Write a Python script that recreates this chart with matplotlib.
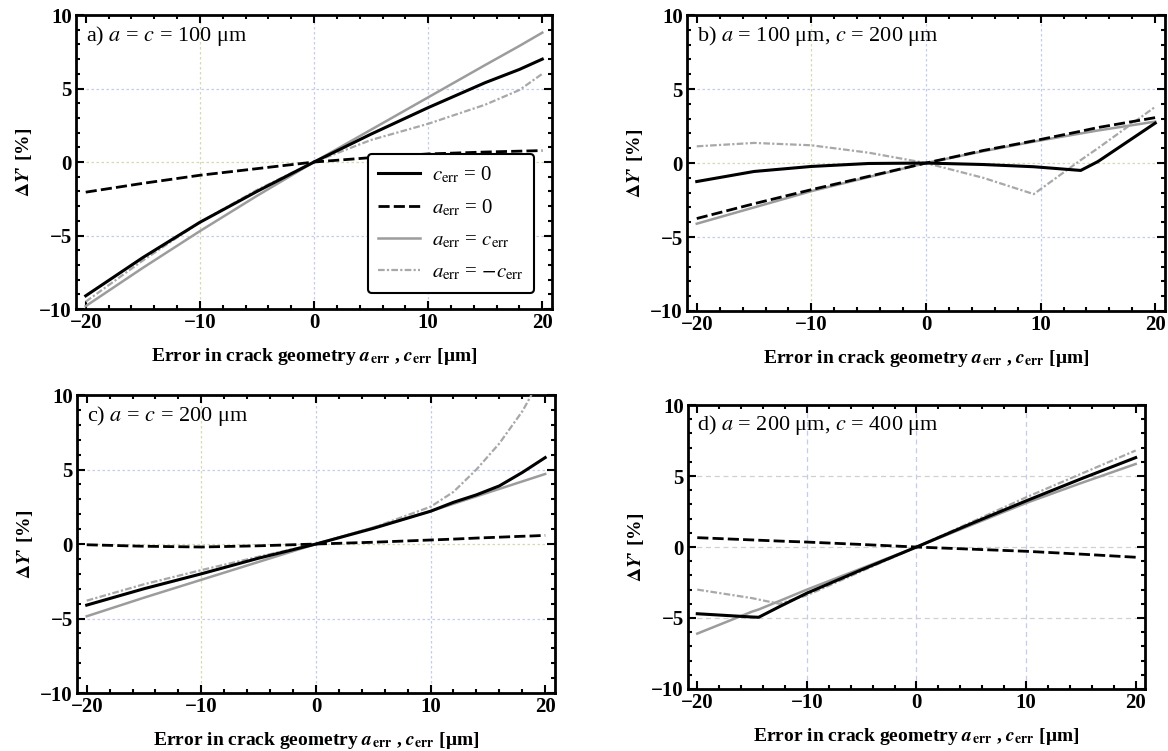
import numpy as np
import matplotlib
matplotlib.use("Agg")
import matplotlib.pyplot as plt
from matplotlib.ticker import MultipleLocator

plt.rcParams['font.family'] = ['Liberation Serif', 'DejaVu Serif']
plt.rcParams['mathtext.fontset'] = 'stix'

# ---- data ----
# a) a = c = 100 um
xa = [-20, -15, -10, -5, 0, 5, 10, 15, 18, 20]
a_c0 = [-9.1, -6.5, -4.1, -2.0, 0, 1.9, 3.7, 5.4, 6.3, 7.0]
a_a0 = [-2.05, -1.45, -0.9, -0.45, 0, 0.3, 0.55, 0.68, 0.74, 0.78]
a_eq = [-9.8, -7.2, -4.7, -2.3, 0, 2.2, 4.4, 6.6, 7.9, 8.8]
a_neg = [-9.5, -6.7, -4.1, -1.9, 0, 1.5, 2.6, 3.9, 4.9, 6.0]

# b) a = 100 um, c = 200 um
xb = [-20, -15, -10, -5, 0, 5, 9.4, 13.5, 15, 20]
b_c0 = [-1.25, -0.57, -0.23, -0.03, 0, -0.1, -0.25, -0.5, 0.1, 2.7]
b_a0 = [-3.75, -2.75, -1.8, -0.9, 0, 0.85, 1.5, 2.15, 2.4, 3.07]
b_eq = [-4.1, -3.0, -1.9, -0.95, 0, 0.8, 1.45, 2.0, 2.2, 2.8]
b_neg = [1.13, 1.36, 1.2, 0.7, 0, -1.0, -2.1, 0.2, 1.0, 3.8]

# c) a = c = 200 um
xc = [-20, -15, -10, -5, 0, 5, 10, 12, 14, 16, 18, 18.8, 20]
c_c0 = [-4.1, -3.0, -2.0, -0.95, 0, 1.05, 2.2, 2.8, 3.3, 3.9, 4.8, 5.2, 5.8]
c_a0 = [-0.05, -0.15, -0.2, -0.12, 0, 0.12, 0.27, 0.33, 0.4, 0.46, 0.52, 0.54, 0.58]
c_eq = [-4.85, -3.6, -2.4, -1.2, 0, 1.1, 2.2, 2.7, 3.2, 3.7, 4.2, 4.4, 4.7]
xc_neg = [-20, -15, -10, -5, 0, 5, 10, 12, 14, 16, 18, 18.8]
c_neg = [-3.8, -2.7, -1.75, -0.85, 0, 1.1, 2.5, 3.5, 5.0, 6.75, 8.9, 10.0]

# d) a = 200 um, c = 400 um
xd = [-20, -15, -14.4, -12.5, -10, -5, 0, 5, 10, 15, 20]
d_c0 = [-4.7, -4.93, -4.95, -4.2, -3.25, -1.6, 0, 1.65, 3.25, 4.8, 6.3]
d_a0 = [0.66, 0.5, 0.48, 0.42, 0.35, 0.18, 0, -0.15, -0.3, -0.5, -0.72]
d_eq = [-6.1, -4.55, -4.4, -3.8, -3.0, -1.5, 0, 1.55, 3.1, 4.5, 5.85]
d_neg = [-3.0, -3.6, -3.7, -4.0, -3.4, -1.7, 0, 1.75, 3.5, 5.15, 6.8]

panels = [
    ("a) $a$ = $c$ = 100 μm", xa, xa, a_c0, a_a0, a_eq, a_neg),
    ("b) $a$ = 100 μm, $c$ = 200 μm", xb, xb, b_c0, b_a0, b_eq, b_neg),
    ("c) $a$ = $c$ = 200 μm", xc, xc_neg, c_c0, c_a0, c_eq, c_neg),
    ("d) $a$ = 200 μm, $c$ = 400 μm", xd, xd, d_c0, d_a0, d_eq, d_neg),
]

# axes boxes in figure fraction (left, bottom, width, height)
boxes = [
    [0.0651, 0.5885, 0.4075, 0.3915],
    [0.5882, 0.5859, 0.4092, 0.3940],
    [0.0659, 0.0772, 0.4092, 0.3968],
    [0.5890, 0.0826, 0.3913, 0.3780],
]

fig = plt.figure(figsize=(11.68, 7.51), dpi=100)

blue = '#c4cbec'
khaki = '#d9d9b0'

for i, (title, xs, xn, c0, a0, eq, neg) in enumerate(panels):
    ax = fig.add_axes(boxes[i])
    ax.set_xlim(-20.85, 20.85)
    ax.set_ylim(-10, 10)

    # light grid lines
    ls = (0, (4, 3)) if i == 3 else (0, (2, 2))
    for gx, col in zip([-10, 0, 10], [khaki, blue, blue]):
        ax.axvline(gx, color=blue if i == 3 else col, lw=0.9, ls=ls, zorder=0)
    for gy, col in zip([-5, 0, 5], [blue, khaki, blue]):
        ax.axhline(gy, color='#d0d0d0' if i == 3 else col, lw=0.9, ls=ls, zorder=0)

    ax.plot(xs, c0, color='black', lw=2.2, label=r'$c_{\mathrm{err}}$ = 0', zorder=4)
    ax.plot(xs, a0, color='black', lw=2.0, ls=(0, (4, 1.5)), label=r'$a_{\mathrm{err}}$ = 0', zorder=4)
    ax.plot(xs, eq, color='#9c9c9c', lw=1.8, label=r'$a_{\mathrm{err}}$ = $c_{\mathrm{err}}$', zorder=3)
    ax.plot(xn, neg, color='#a8a8a8', lw=1.6, ls=(0, (3, 1, 1, 1)),
            label=r'$a_{\mathrm{err}}$ = $-c_{\mathrm{err}}$', zorder=3)

    ax.text(0.02, 0.93, title, transform=ax.transAxes, fontsize=16, va='center', ha='left')

    ax.xaxis.set_major_locator(MultipleLocator(10))
    ax.xaxis.set_minor_locator(MultipleLocator(2))
    ax.yaxis.set_major_locator(MultipleLocator(5))
    ax.yaxis.set_minor_locator(MultipleLocator(1))
    ax.tick_params(which='both', direction='in', top=True, right=True, width=1.5)
    ax.tick_params(which='major', length=6, labelsize=15, pad=3)
    ax.tick_params(which='minor', length=3)
    for lab in ax.get_xticklabels() + ax.get_yticklabels():
        lab.set_fontweight('bold')
    for sp in ax.spines.values():
        sp.set_linewidth(2)

    ax.set_xlabel(r"Error in crack geometry $\mathbfit{a}_{\mathbf{err}}$ , $\mathbfit{c}_{\mathbf{err}}$ [μm]",
                  fontsize=14, fontweight='bold', labelpad=9)
    ax.set_ylabel(r"$\mathbf{\Delta}\mathbfit{Y}$' [%]", fontsize=14, fontweight='bold', labelpad=4)

    if i == 0:
        leg = ax.legend(loc='lower right', bbox_to_anchor=(0.985, 0.02), fontsize=15,
                        frameon=True, fancybox=True, edgecolor='black', framealpha=1,
                        handlelength=2.0, handletextpad=0.6, labelspacing=0.6,
                        borderpad=0.5)
        leg.get_frame().set_linewidth(1.5)

fig.savefig('out.png', dpi=100)
